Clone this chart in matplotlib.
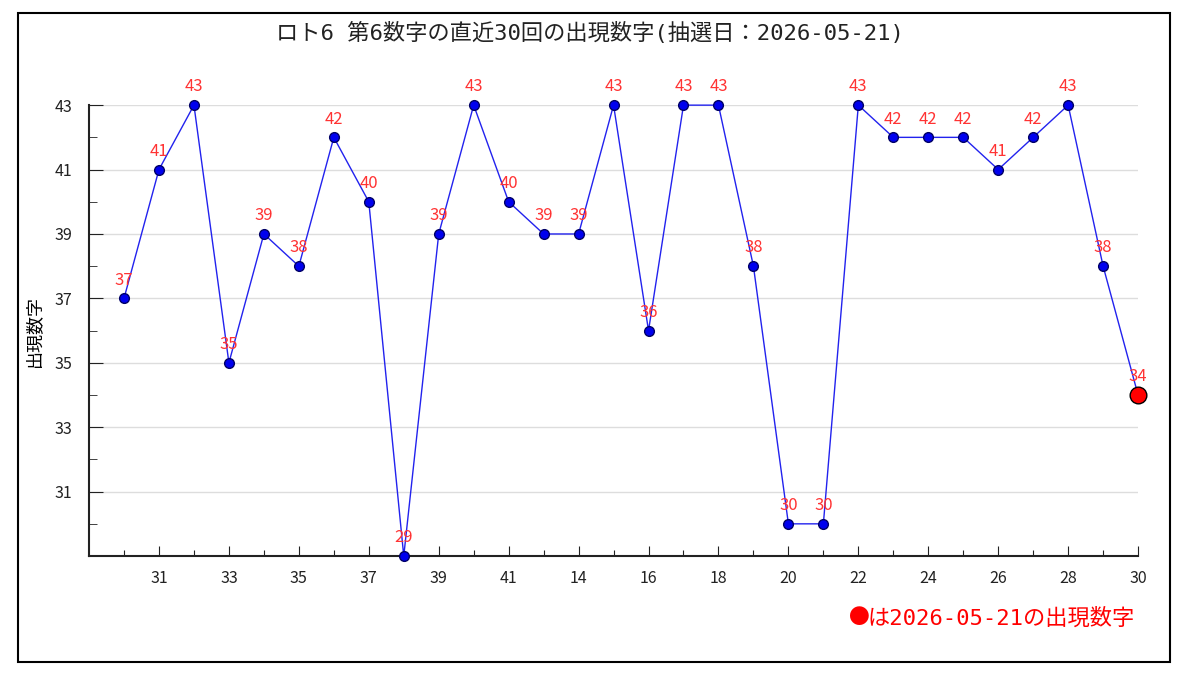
import matplotlib.pyplot as plt
from matplotlib.patches import Rectangle

plt.rcParams['font.family'] = ['Noto Sans CJK JP', 'DejaVu Sans']
mono = ['DejaVu Sans Mono', 'Noto Sans CJK JP']

# 直近30回の抽選回（下2桁）と第6数字
draw_labels = ['30', '31', '32', '33', '34', '35', '36', '37', '38', '39',
               '40', '41', '42', '14', '15', '16', '17', '18', '19', '20',
               '21', '22', '23', '24', '25', '26', '27', '28', '29', '30']
numbers = [37, 41, 43, 35, 39, 38, 42, 40, 29, 39,
           43, 40, 39, 39, 43, 36, 43, 43, 38, 30,
           30, 43, 42, 42, 42, 41, 42, 43, 38, 34]
latest_date = '2026-05-21'

xs = list(range(1, len(numbers) + 1))

fig = plt.figure(figsize=(12, 6.74), dpi=100)
ax = fig.add_axes([0.0742, 0.175, 0.8742, 0.669])

# outer frame
fig.patches.append(Rectangle((0.015, 0.018), 0.96, 0.963, transform=fig.transFigure,
                             fill=False, edgecolor='black', linewidth=1.5))

ax.set_xlim(0, len(numbers))
ax.set_ylim(29, 43)

ax.set_yticks([31, 33, 35, 37, 39, 41, 43])
ax.set_yticks(range(30, 43, 2), minor=True)
ax.grid(axis='y', which='major', color='#dddddd', linewidth=1)
ax.set_axisbelow(True)

ax.set_xticks(xs)
ax.set_xticklabels([lab if i % 2 == 1 else '' for i, lab in enumerate(draw_labels)])
ax.tick_params(axis='x', which='major', direction='in', length=0, pad=10, labelsize=11.5, colors='#222222')
for i, t in enumerate(ax.xaxis.get_major_ticks()):
    t.tick1line.set_markersize(7 if i % 2 == 1 else 4)
ax.tick_params(axis='y', which='major', direction='in', length=10, pad=12, labelsize=11.5, colors='#222222')
ax.tick_params(axis='y', which='minor', direction='in', length=6, colors='#222222')

for s in ['top', 'right']:
    ax.spines[s].set_visible(False)
for s in ['left', 'bottom']:
    ax.spines[s].set_linewidth(1.5)
    ax.spines[s].set_color('#222222')

ax.plot(xs, numbers, color='#2222ee', linewidth=1, marker='o', markersize=7,
        markerfacecolor='#0000ee', markeredgecolor='#000066', markeredgewidth=1,
        clip_on=False, zorder=3)
ax.plot(xs[-1], numbers[-1], marker='o', markersize=12, markerfacecolor='red',
        markeredgecolor='black', markeredgewidth=1, clip_on=False, zorder=4)

for x, v in zip(xs, numbers):
    ax.annotate(str(v), (x, v), xytext=(0, 7), textcoords='offset points',
                ha='center', va='bottom', color='#ff3333', fontsize=12,
                annotation_clip=False, zorder=5)

ax.set_ylabel('出現数字', fontsize=13, labelpad=8)
fig.text(0.4915, 0.951, 'ロト6 第6数字の直近30回の出現数字(抽選日：' + latest_date + ')',
         ha='center', va='center', fontsize=16, color='#222222', family=mono)

# legend note
fig.text(0.716, 0.083, '●', ha='center', va='center', fontsize=15, color='red',
         family='Noto Sans CJK JP')
fig.text(0.946, 0.083, 'は' + latest_date + 'の出現数字', ha='right', va='center',
         fontsize=16, color='red', family=mono)

fig.savefig('out.png', dpi=100)
